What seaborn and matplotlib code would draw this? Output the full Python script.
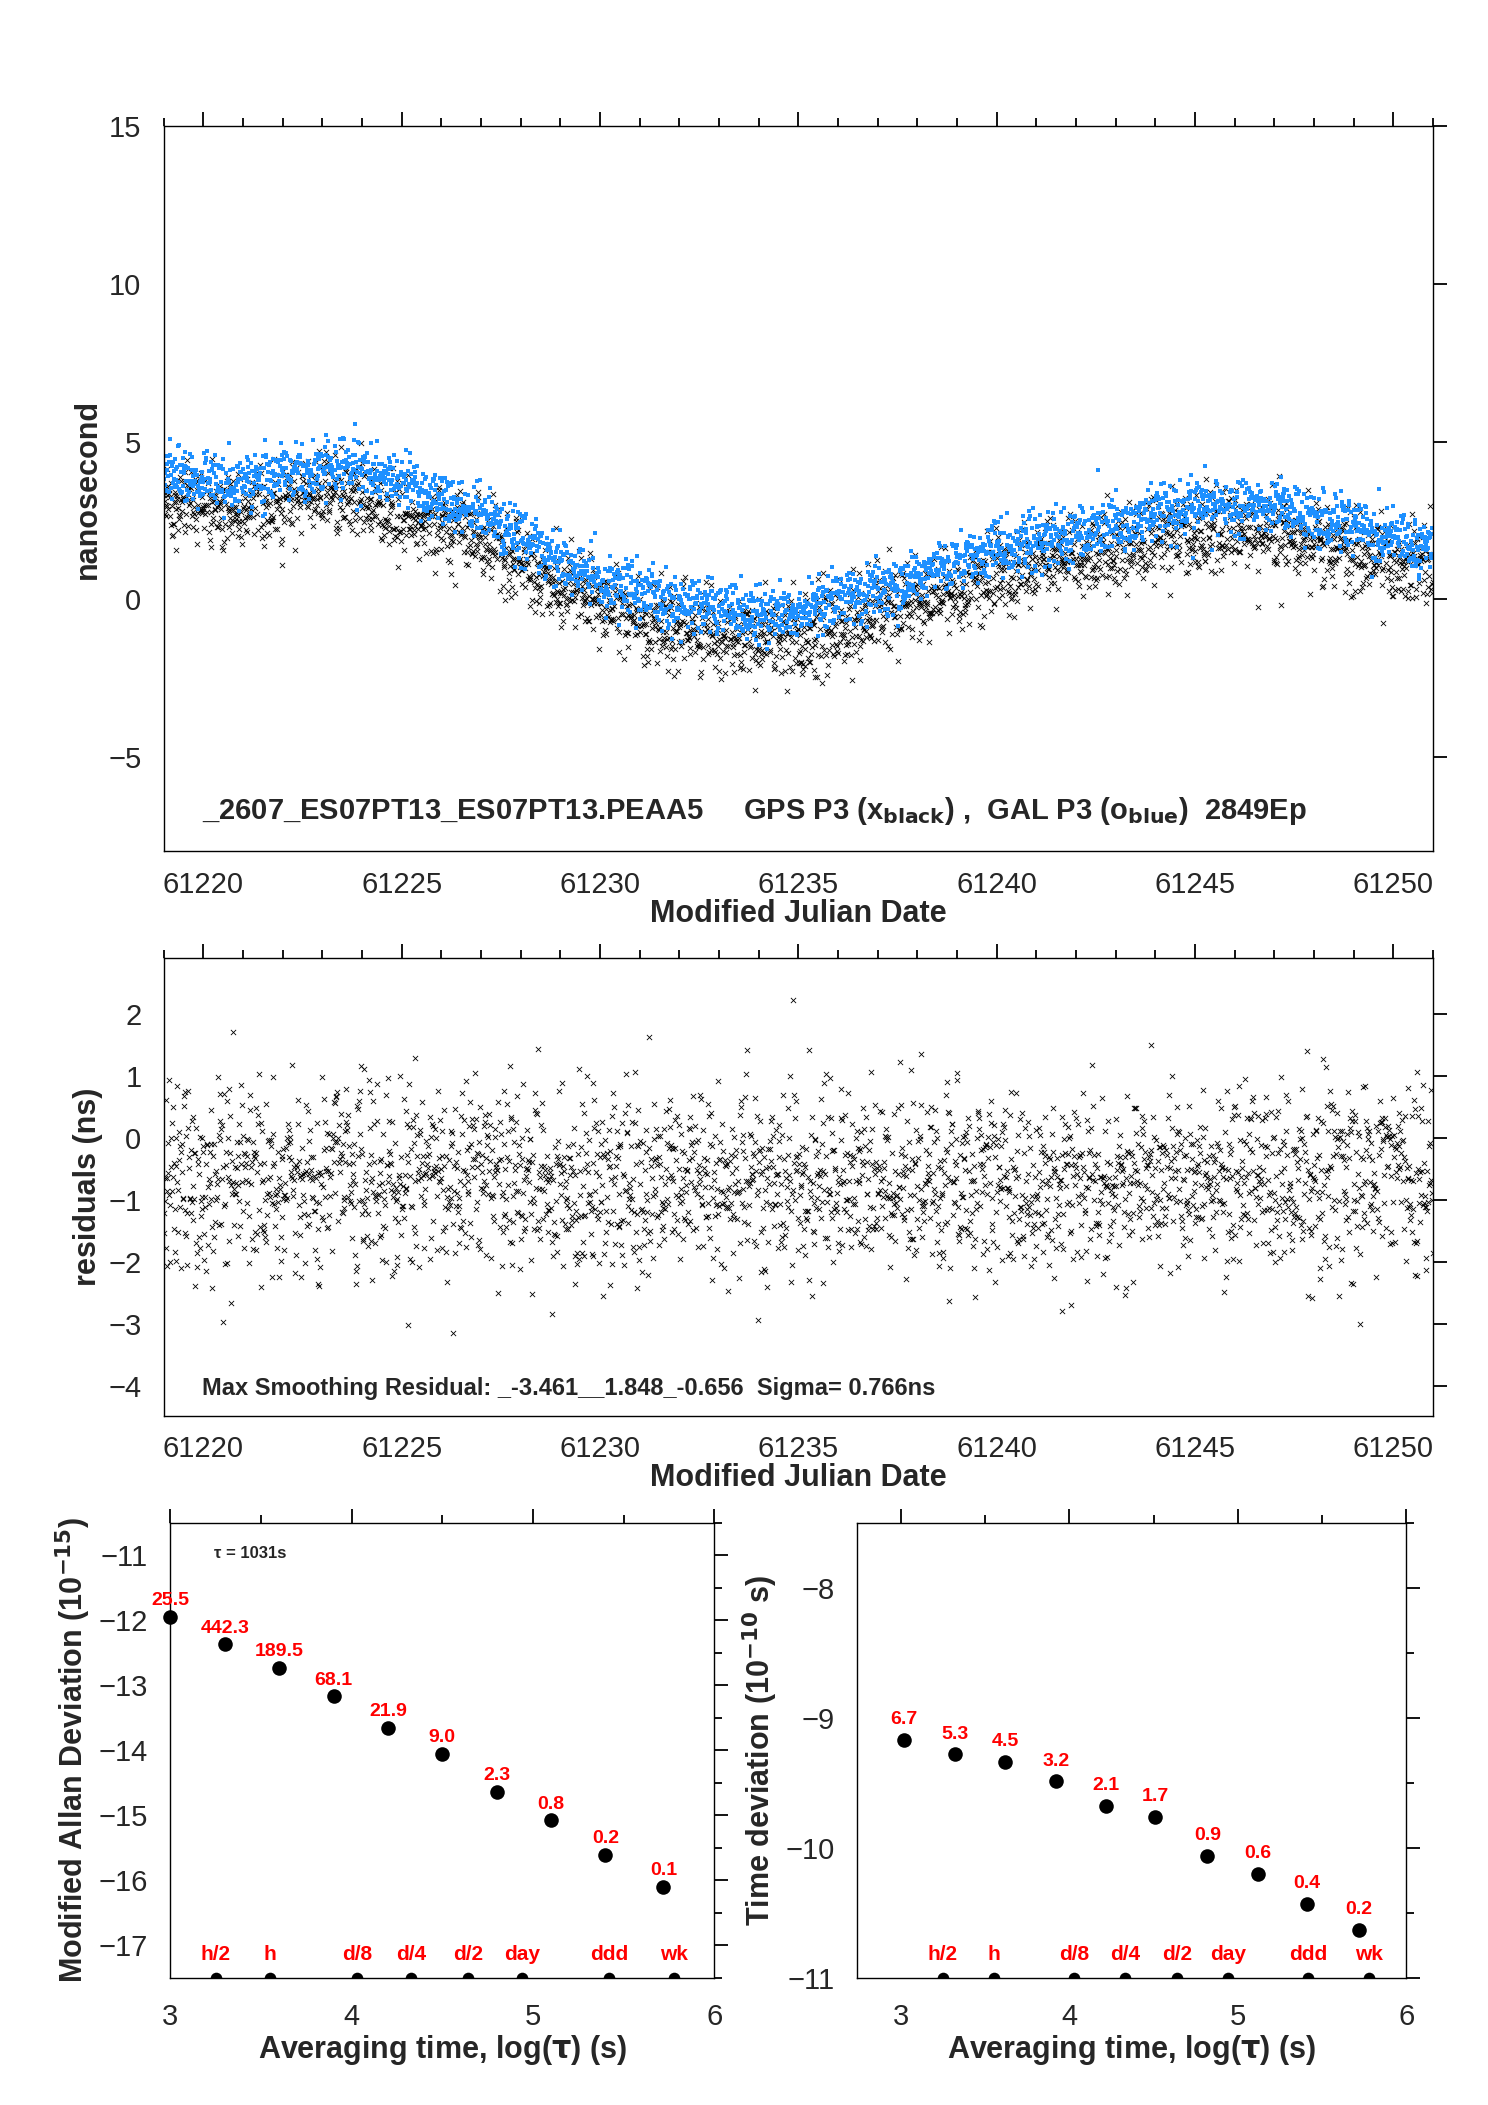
import numpy as np
import pandas as pd
import matplotlib
matplotlib.use("Agg")
import matplotlib.pyplot as plt
import seaborn as sns

sns.set_theme(style="white")
plt.rcParams['font.family'] = ['Liberation Sans', 'DejaVu Sans']

# ---- data ----
trend_days = list(range(61219, 61252))
gps_trend = [3.3, 3.0, 2.9, 3.2, 3.4, 3.3, 2.8, 2.4, 1.9, 1.2, 0.5, -0.2, -0.6, -0.9, -1.1,
             -1.3, -1.2, -0.9, -0.5, 0.0, 0.4, 0.8, 1.1, 1.3, 1.6, 1.9, 2.1, 2.2, 2.1, 1.8,
             1.5, 1.1, 0.9]
gal_offset = 0.8
resid_mean = -0.656
resid_sigma = 0.766

mdev_x = [3.0, 3.3, 3.6, 3.9, 4.2, 4.5, 4.8, 5.1, 5.4, 5.72]
mdev_y = [-11.95, -12.37, -12.73, -13.17, -13.66, -14.05, -14.64, -15.08, -15.61, -16.10]
mdev_lab = ["25.5", "442.3", "189.5", "68.1", "21.9", "9.0", "2.3", "0.8", "0.2", "0.1"]

tdev_x = [3.02, 3.32, 3.62, 3.92, 4.22, 4.51, 4.82, 5.12, 5.41, 5.72]
tdev_y = [-9.17, -9.28, -9.34, -9.49, -9.68, -9.76, -10.06, -10.20, -10.43, -10.63]
tdev_lab = ["6.7", "5.3", "4.5", "3.2", "2.1", "1.7", "0.9", "0.6", "0.4", "0.2"]

mark_x = [3.25, 3.55, 4.03, 4.33, 4.64, 4.94, 5.42, 5.78]
mark_lab = ["h/2", "h", "d/8", "d/4", "d/2", "day", "ddd", "wk"]

# ---- scatter samples around the read trend ----
rng = np.random.default_rng(7)
t = np.arange(61219.0, 61251.0, 1031 / 86400.0)
base = np.interp(t, trend_days, gps_trend)
gps = base + rng.normal(0, 0.65, t.size)
gal = base + gal_offset + rng.normal(0, 0.45, t.size)
res = resid_mean + rng.normal(0, resid_sigma, t.size)
df = pd.DataFrame({"mjd": t, "gps": gps, "gal": gal, "res": res})

fig = plt.figure(figsize=(14.88, 21.05), dpi=100)
ax1 = fig.add_axes([0.110, 0.5955, 0.853, 0.3445])
ax2 = fig.add_axes([0.110, 0.3273, 0.853, 0.2174])
ax3 = fig.add_axes([0.1145, 0.0605, 0.3655, 0.216])
ax4 = fig.add_axes([0.576, 0.0605, 0.369, 0.216])

TF = 21
LF = 22

def style(ax):
    for s in ax.spines.values():
        s.set_color("black"); s.set_linewidth(1.0)
    ax.tick_params(axis="both", which="both", direction="out", color="black",
                   labelsize=TF, top=True, right=True, bottom=False,
                   labeltop=False, labelright=False, width=1.3)
    ax.tick_params(which="major", length=10)
    ax.tick_params(which="minor", length=6)
    ax.tick_params(axis="x", pad=4)
    ax.tick_params(axis="y", pad=6)

sns.scatterplot(data=df, x="mjd", y="gps", ax=ax1, marker="x", color="black", s=14,
                linewidth=0.6)
sns.scatterplot(data=df, x="mjd", y="gal", ax=ax1, marker="s", color="#1e90ff", s=6,
                linewidth=0)
ax1.set_xlim(61219.0, 61251.0); ax1.set_ylim(-8, 15)
ax1.set_yticks([-5, 0, 5, 10, 15]); ax1.set_yticklabels(["\u22125", "0", "5", "10", "15"])
ax1.set_xticks(range(61220, 61251, 5))
ax1.set_xticks(range(61219, 61252), minor=True)
ax1.set_ylabel("nanosecond", fontsize=LF, fontweight="bold")
ax1.set_xlabel("Modified Julian Date", fontsize=LF, fontweight="bold", labelpad=0)
ax1.text(0.03, 0.045, "_2607_ES07PT13_ES07PT13.PEAA5     GPS P3 (x$_{\\mathbf{black}}$) ,  GAL P3 (o$_{\\mathbf{blue}}$)  2849Ep",
         transform=ax1.transAxes, fontsize=21, fontweight="bold")
style(ax1)

sns.scatterplot(data=df, x="mjd", y="res", ax=ax2, marker="x", color="black", s=14,
                linewidth=0.6)
ax2.set_xlim(61219.0, 61251.0); ax2.set_ylim(-4.48, 2.9)
ax2.set_yticks([-4, -3, -2, -1, 0, 1, 2])
ax2.set_yticklabels(["\u22124", "\u22123", "\u22122", "\u22121", "0", "1", "2"])
ax2.set_xticks(range(61220, 61251, 5))
ax2.set_xticks(range(61219, 61252), minor=True)
ax2.set_ylabel("residuals (ns)", fontsize=LF, fontweight="bold")
ax2.set_xlabel("Modified Julian Date", fontsize=LF, fontweight="bold", labelpad=0)
ax2.text(0.03, 0.045, "Max Smoothing Residual: _-3.461__1.848_-0.656  Sigma= 0.766ns",
         transform=ax2.transAxes, fontsize=17, fontweight="bold")
style(ax2)

def dev_panel(ax, xs, ys, labs, ylim, yt, ylabel, dy):
    sns.scatterplot(x=xs, y=ys, ax=ax, color="black", s=110, linewidth=0, clip_on=False)
    for x, y, l in zip(xs, ys, labs):
        ax.text(x, y + dy, l, color="red", fontsize=14, fontweight="bold",
                ha="center", va="bottom")
    sns.scatterplot(x=mark_x, y=[ylim[0]] * len(mark_x), ax=ax, color="black", s=70,
                    linewidth=0, clip_on=True)
    for x, l in zip(mark_x, mark_lab):
        ax.text(x, ylim[0] + 0.03 * (ylim[1] - ylim[0]), l, color="red",
                fontsize=15, fontweight="bold", ha="center", va="bottom")
    ax.set_ylim(*ylim)
    ax.set_yticks(yt)
    ax.set_yticklabels([("\u2212" + str(abs(v))) if v < 0 else str(v) for v in yt])
    ax.set_xticks([3, 4, 5, 6])
    ax.set_xticks([3.5, 4.5, 5.5], minor=True)
    ax.set_xlabel("Averaging time, log($\\mathbf{\\tau}$) (s)", fontsize=LF, fontweight="bold",
                  labelpad=2)
    ax.set_ylabel(ylabel, fontsize=LF, fontweight="bold")
    style(ax)
    ax.tick_params(axis="x", pad=8)

dev_panel(ax3, mdev_x, mdev_y, mdev_lab, (-17.5, -10.5), [-17, -16, -15, -14, -13, -12, -11],
          "Modified Allan Deviation (10$^{\\mathbf{-15}}$)", 0.12)
ax3.set_xlim(3, 6)
ax3.set_yticks(np.arange(-17.5, -10.4, 0.5), minor=True)
ax3.text(0.08, 0.95, "\u03c4 = 1031s", transform=ax3.transAxes, fontsize=12,
         fontweight="bold", va="top")

dev_panel(ax4, tdev_x, tdev_y, tdev_lab, (-11.0, -7.5), [-11, -10, -9, -8],
          "Time deviation (10$^{\\mathbf{-10}}$ s)", 0.09)
ax4.set_xlim(2.74, 6.0)
ax4.set_yticks(np.arange(-11, -7.4, 0.5), minor=True)

fig.savefig("out.png", dpi=100)
